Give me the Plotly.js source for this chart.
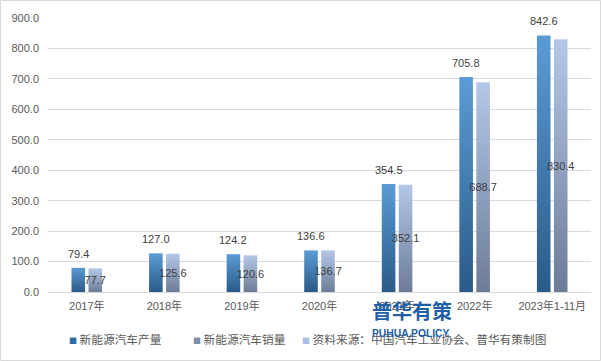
<!DOCTYPE html>
<html>
<head>
<meta charset="utf-8">
<script src="https://cdn.plot.ly/plotly-3.0.1.min.js"></script>
<style>
html,body{margin:0;padding:0;background:#fff;}
#chart{width:601px;height:361px;}
</style>
</head>
<body>
<div id="chart"></div>
<script>
var categories = ['2017年','2018年','2019年','2020年','2021年','2022年','2023年1-11月'];
var production = [79.4, 127.0, 124.2, 136.6, 354.5, 705.8, 842.6];
var sales = [77.7, 125.6, 120.6, 136.7, 352.1, 688.7, 830.4];
var seriesNames = ['新能源汽车产量','新能源汽车销量'];
var sourceText = '资料来源：中国汽车工业协会、普华有策制图';
var yTicks = [0,100,200,300,400,500,600,700,800,900];

var FONT = 'Liberation Sans, Noto Sans CJK SC, sans-serif';
var CJK = 'Noto Sans CJK SC, sans-serif';

var traces = [
  {type:'bar', name:seriesNames[0], x:categories, y:production,
   marker:{color:'#3f7fbf'}, showlegend:false, hoverinfo:'none'},
  {type:'bar', name:seriesNames[1], x:categories, y:sales,
   text:sales.map(function(v){return v.toFixed(1);}),
   textposition:'inside', insidetextanchor:'middle', constraintext:'none',
   textangle:0, cliponaxis:false,
   insidetextfont:{family:FONT, size:11, color:'#404040'},
   marker:{color:'#8fa3c4'}, showlegend:false, hoverinfo:'none'}
];

var annotations = [];
for (var i=0;i<categories.length;i++){
  annotations.push({x:categories[i], y:production[i], xref:'x', yref:'y',
    text:production[i].toFixed(1), showarrow:false, yanchor:'bottom',
    xshift:-8.5, yshift:6, font:{family:FONT,size:11,color:'#404040'}});
}
var legendItems = [
  {text:seriesNames[0], color:'#2e6aa6', x:0.035},
  {text:seriesNames[1], color:'#7d8fae', x:0.2634},
  {text:sourceText, color:'#a9bfe3', x:0.464}
];
legendItems.forEach(function(it){
  annotations.push({xref:'paper', yref:'paper', x:it.x, y:-0.168, xanchor:'left', yanchor:'middle',
    showarrow:false,
    text:'<span style="font-size:8px;color:'+it.color+'">■</span> '+it.text,
    font:{family:CJK,size:11.7,color:'#595959'}});
});
annotations.push({xref:'paper', yref:'paper', x:0.5935, y:-0.066, xanchor:'left', yanchor:'middle',
  showarrow:false, text:'<b>普华有策</b>', font:{family:CJK,size:20,color:'#1f5fa6'}});
annotations.push({xref:'paper', yref:'paper', x:0.5935, y:-0.150, xanchor:'left', yanchor:'middle',
  showarrow:false, text:'<b>PUHUA POLICY</b>', font:{family:FONT,size:10.3,color:'#1f5fa6'}});

var layout = {
  width:601, height:361,
  margin:{l:48, r:10, t:18, b:69},
  paper_bgcolor:'#ffffff', plot_bgcolor:'#ffffff',
  barmode:'group', bargap:0.562, bargroupgap:0.2,
  showlegend:false,
  font:{family:FONT, size:11, color:'#595959'},
  xaxis:{type:'category', showgrid:false, showline:false, zeroline:false, ticks:'',
    tickfont:{family:FONT,size:11,color:'#595959'}, ticklabelstandoff:6},
  yaxis:{range:[0,900], tickvals:yTicks, tickformat:'.1f', showgrid:true, gridcolor:'#d9d9d9',
    gridwidth:1, zeroline:true, zerolinecolor:'#d9d9d9', zerolinewidth:1, showline:false, ticks:'',
    tickfont:{family:FONT,size:11,color:'#595959'}, ticklabelstandoff:8},
  annotations:annotations,
  shapes:[{type:'rect', xref:'paper', yref:'paper',
    x0:(0.5-48)/543, x1:(600.5-48)/543, y0:(292-360.5)/274, y1:(292-0.5)/274,
    line:{color:'#d9d9d9', width:1}, fillcolor:'rgba(0,0,0,0)', layer:'below'}]
};

Plotly.newPlot('chart', traces, layout, {staticPlot:true, displayModeBar:false}).then(function(gd){
  var svg = gd.querySelector('.main-svg');
  var defs = svg.querySelector('defs');
  var ns = 'http://www.w3.org/2000/svg';
  function grad(id, top, bottom){
    var lg = document.createElementNS(ns,'linearGradient');
    lg.setAttribute('id',id); lg.setAttribute('x1','0'); lg.setAttribute('y1','0');
    lg.setAttribute('x2','0'); lg.setAttribute('y2','1');
    [[0,top],[1,bottom]].forEach(function(s){
      var st = document.createElementNS(ns,'stop');
      st.setAttribute('offset', s[0]); st.setAttribute('stop-color', s[1]);
      lg.appendChild(st);
    });
    defs.appendChild(lg);
  }
  grad('gProd','#5b9bd5','#2a5b88');
  grad('gSales','#b4c7e7','#6c7c98');
  var tr = gd.querySelectorAll('.barlayer .trace');
  var ids = ['gProd','gSales'];
  tr.forEach(function(t, k){
    t.querySelectorAll('.point path').forEach(function(p){
      p.style.fill = 'url(#'+ids[k]+')';
    });
  });
});
</script>
</body>
</html>
